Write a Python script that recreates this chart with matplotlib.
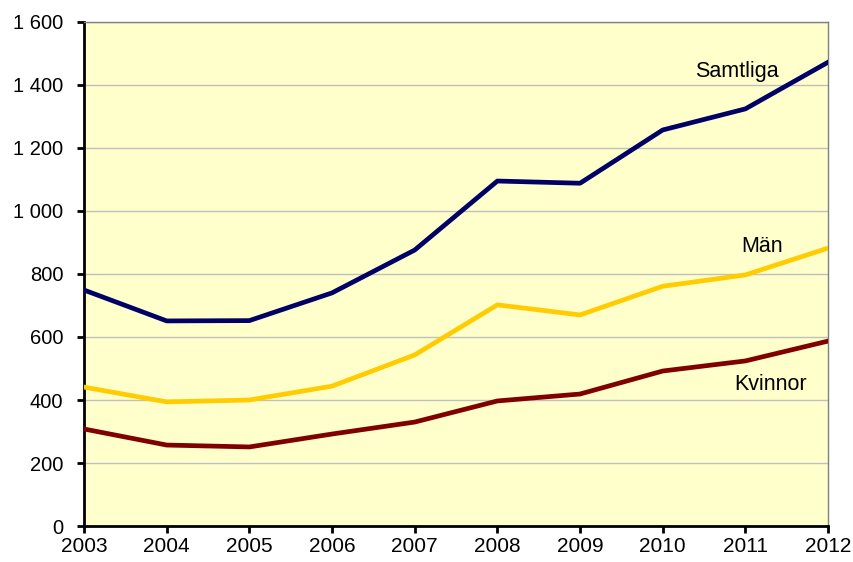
import matplotlib
matplotlib.use("Agg")
import matplotlib.pyplot as plt
from matplotlib.ticker import FuncFormatter

plt.rcParams['font.family'] = ['Liberation Sans', 'DejaVu Sans']

years = [2003, 2004, 2005, 2006, 2007, 2008, 2009, 2010, 2011, 2012]
samtliga = [749, 651, 652, 740, 876, 1095, 1088, 1257, 1324, 1472]
man = [441, 394, 400, 444, 543, 702, 670, 761, 797, 882]
kvinnor = [308, 257, 251, 292, 330, 397, 419, 492, 524, 587]

fig = plt.figure(figsize=(8.54, 5.62), dpi=100)
ax = fig.add_axes([0.0984, 0.064, 0.8712, 0.897])
ax.set_facecolor('#FFFFCC')

ax.plot(years, samtliga, color='#000066', lw=3.4, zorder=3)
ax.plot(years, man, color='#FFCC00', lw=3.4, zorder=3)
ax.plot(years, kvinnor, color='#800000', lw=3.4, zorder=3)

ax.text(2010.9, 1443, 'Samtliga', fontsize=15.5, ha='center', va='center')
ax.text(2011.2, 887, 'Män', fontsize=15.5, ha='center', va='center')
ax.text(2011.3, 450, 'Kvinnor', fontsize=15.5, ha='center', va='center')

ax.set_xlim(2003, 2012)
ax.set_ylim(0, 1600)
ax.set_xticks(years)
ax.set_yticks(range(0, 1601, 200))
ax.yaxis.set_major_formatter(FuncFormatter(lambda v, p: f'{int(v):,}'.replace(',', ' ')))
ax.grid(axis='y', color='#C0C0C0', lw=1)
ax.set_axisbelow(True)

ax.tick_params(direction='out', length=5, width=2)
ax.tick_params(axis='x', labelsize=15, pad=3)
ax.tick_params(axis='y', labelsize=14.5, pad=10)
for s in ['left', 'bottom']:
    ax.spines[s].set_linewidth(2)
    ax.spines[s].set_color('black')
for s in ['top', 'right']:
    ax.spines[s].set_linewidth(1)
    ax.spines[s].set_color('#808080')

fig.savefig('out.png', dpi=100)
